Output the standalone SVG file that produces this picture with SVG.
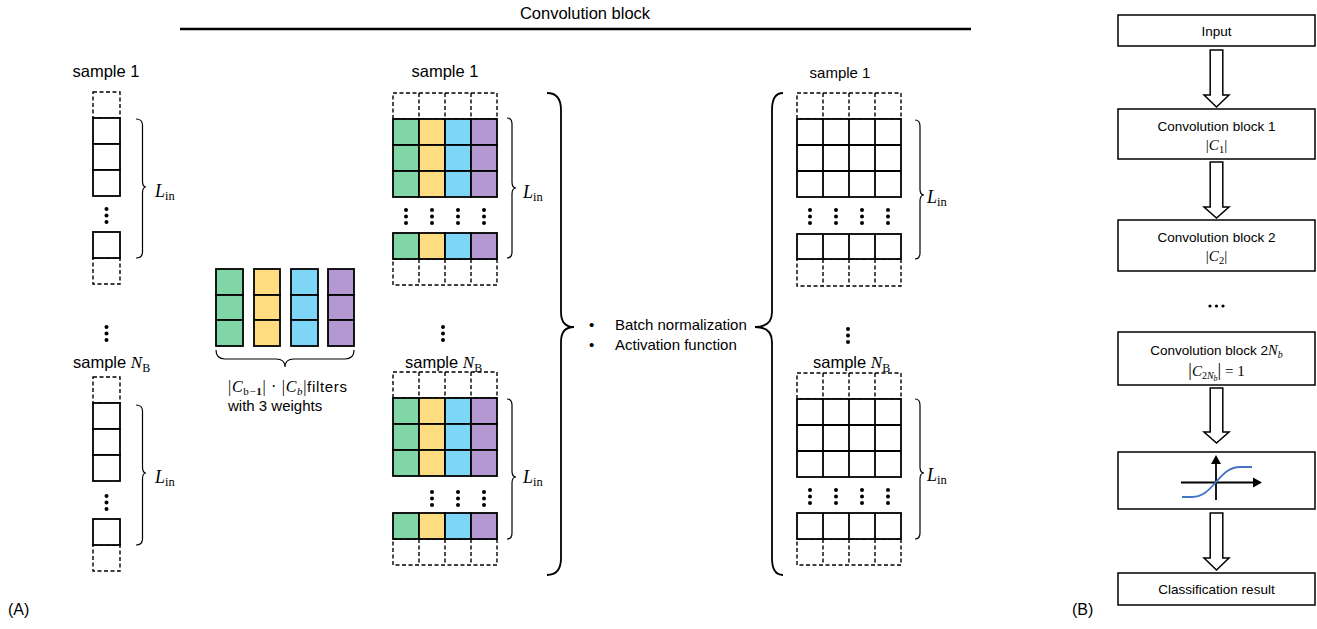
<svg xmlns="http://www.w3.org/2000/svg" xmlns:xlink="http://www.w3.org/1999/xlink" width="1317" height="629" viewBox="0 0 1317 629">
<style>
.t{font-family:"Liberation Sans",Arial,sans-serif;fill:#000}
.m{font-family:"Liberation Serif","DejaVu Serif",serif;fill:#000}
.i{font-style:italic}
.c{stroke:#000;stroke-width:1.8;fill:#fff}
.d{stroke:#000;stroke-width:1.4;stroke-dasharray:4 2.5;fill:none}
.g{fill:#80D6A6}
.y{fill:#FFDC80}
.b{fill:#7DD6F5}
.p{fill:#B398D2}
.br{fill:none;stroke:#000;stroke-width:1.2}
.bb{fill:none;stroke:#000;stroke-width:1.8}
.box{fill:#fff;stroke:#000;stroke-width:1.5}
.arr{fill:#fff;stroke:#000;stroke-width:1.5}
</style>
<defs>
<g id="vd"><circle cx="0" cy="0" r="2"/><circle cx="0" cy="6.5" r="2"/><circle cx="0" cy="13" r="2"/></g>
<g id="hd"><circle cx="0" cy="0" r="1.6"/><circle cx="6.5" cy="0" r="1.6"/><circle cx="13" cy="0" r="1.6"/></g>
</defs>
<rect width="1317" height="629" fill="#fff"/>

<!-- Title -->
<g id="title">
<text class="t" x="585" y="19" text-anchor="middle" font-size="16.5">Convolution block</text>
<line x1="180" y1="29" x2="971" y2="29" stroke="#000" stroke-width="2.6"/>
</g>

<!-- Input samples column -->
<g id="input-sample1">
<text class="t" x="106" y="77" text-anchor="middle" font-size="16.5">sample 1</text>
<rect class="d" x="93" y="92" width="27" height="26"/>
<rect class="d" x="93" y="258" width="27" height="26"/>
<rect class="c" x="93" y="118" width="27" height="26"/>
<rect class="c" x="93" y="144" width="27" height="26"/>
<rect class="c" x="93" y="170" width="27" height="26"/>
<use xlink:href="#vd" x="106.5" y="209"/>
<rect class="c" x="93" y="232" width="27" height="26"/>
<path class="br" d="M136,119 Q142.5,119 142.5,125 L142.5,181 Q142.5,187 146,187 Q142.5,187 142.5,193 L142.5,252 Q142.5,258 136,258"/>
<text class="m" x="155" y="197"><tspan class="i" font-size="18">L</tspan><tspan font-size="12.5" dy="3">in</tspan></text>
</g>
<use xlink:href="#vd" x="106.5" y="327"/>
<g id="input-sampleNB">
<text class="t" x="73" y="368" font-size="16.5">sample <tspan class="m i" font-size="17">N</tspan><tspan class="m" font-size="12" dy="4">B</tspan></text>
<rect class="d" x="93" y="377" width="27" height="26"/>
<rect class="d" x="93" y="545" width="27" height="26"/>
<rect class="c" x="93" y="403" width="27" height="26"/>
<rect class="c" x="93" y="429" width="27" height="26"/>
<rect class="c" x="93" y="455" width="27" height="26"/>
<use xlink:href="#vd" x="106.5" y="496"/>
<rect class="c" x="93" y="519" width="27" height="26"/>
<path class="br" d="M136,405 Q142.5,405 142.5,411 L142.5,467 Q142.5,473 146,473 Q142.5,473 142.5,479 L142.5,539 Q142.5,545 136,545"/>
<text class="m" x="155" y="483"><tspan class="i" font-size="18">L</tspan><tspan font-size="12.5" dy="3">in</tspan></text>
</g>

<!-- Filters -->
<g id="filters">
<rect class="c g" x="216" y="269" width="27" height="26"/><rect class="c g" x="216" y="295" width="27" height="25"/><rect class="c g" x="216" y="320" width="27" height="26"/>
<rect class="c y" x="254" y="269" width="26" height="26"/><rect class="c y" x="254" y="295" width="26" height="25"/><rect class="c y" x="254" y="320" width="26" height="26"/>
<rect class="c b" x="291" y="269" width="27" height="26"/><rect class="c b" x="291" y="295" width="27" height="25"/><rect class="c b" x="291" y="320" width="27" height="26"/>
<rect class="c p" x="328" y="269" width="26" height="26"/><rect class="c p" x="328" y="295" width="26" height="25"/><rect class="c p" x="328" y="320" width="26" height="26"/>
<path class="br" d="M216,350 Q216,359 225,359 L276,359 Q285,359 285,367 Q285,359 294,359 L345,359 Q354,359 354,350"/>
<text class="m" x="228" y="392" font-size="16" textLength="119" lengthAdjust="spacing">|<tspan class="i">C</tspan><tspan font-size="11" dy="3">b−<tspan font-weight="bold">1</tspan></tspan><tspan dy="-3">| · |</tspan><tspan class="i">C</tspan><tspan class="i" font-size="11" dy="3">b</tspan><tspan dy="-3">|</tspan><tspan class="t" font-size="15">filters</tspan></text>
<text class="t" x="228" y="411" font-size="15">with 3 weights</text>
</g>

<!-- Convolution output grids -->
<g id="conv-sample1">
<text class="t" x="445" y="77" text-anchor="middle" font-size="16.5">sample 1</text>
<rect class="d" x="393" y="93" width="104" height="26"/>
<path class="d" d="M419,93V119M445,93V119M471,93V119"/>
<rect class="d" x="393" y="259" width="104" height="26"/>
<path class="d" d="M419,259V285M445,259V285M471,259V285"/>
<rect class="c g" x="393" y="119" width="26" height="26"/><rect class="c y" x="419" y="119" width="26" height="26"/><rect class="c b" x="445" y="119" width="26" height="26"/><rect class="c p" x="471" y="119" width="26" height="26"/>
<rect class="c g" x="393" y="145" width="26" height="26"/><rect class="c y" x="419" y="145" width="26" height="26"/><rect class="c b" x="445" y="145" width="26" height="26"/><rect class="c p" x="471" y="145" width="26" height="26"/>
<rect class="c g" x="393" y="171" width="26" height="26"/><rect class="c y" x="419" y="171" width="26" height="26"/><rect class="c b" x="445" y="171" width="26" height="26"/><rect class="c p" x="471" y="171" width="26" height="26"/>
<use xlink:href="#vd" x="406" y="210"/><use xlink:href="#vd" x="432" y="210"/><use xlink:href="#vd" x="458" y="210"/><use xlink:href="#vd" x="484" y="210"/>
<rect class="c g" x="393" y="233" width="26" height="26"/><rect class="c y" x="419" y="233" width="26" height="26"/><rect class="c b" x="445" y="233" width="26" height="26"/><rect class="c p" x="471" y="233" width="26" height="26"/>
<path class="br" d="M507,118 Q512,118 512,124 L512,182 Q512,188 516,188 Q512,188 512,194 L512,252 Q512,258 507,258"/>
<text class="m" x="523" y="198"><tspan class="i" font-size="18">L</tspan><tspan font-size="12.5" dy="3">in</tspan></text>
</g>
<use xlink:href="#vd" x="443" y="327"/>
<g id="conv-sampleNB">
<text class="t" x="405" y="368" font-size="16.5">sample <tspan class="m i" font-size="17">N</tspan><tspan class="m" font-size="12" dy="4">B</tspan></text>
<rect class="d" x="393" y="372" width="104" height="26"/>
<path class="d" d="M419,372V398M445,372V398M471,372V398"/>
<rect class="d" x="393" y="539" width="104" height="26"/>
<path class="d" d="M419,539V565M445,539V565M471,539V565"/>
<rect class="c g" x="393" y="398" width="26" height="26"/><rect class="c y" x="419" y="398" width="26" height="26"/><rect class="c b" x="445" y="398" width="26" height="26"/><rect class="c p" x="471" y="398" width="26" height="26"/>
<rect class="c g" x="393" y="424" width="26" height="26"/><rect class="c y" x="419" y="424" width="26" height="26"/><rect class="c b" x="445" y="424" width="26" height="26"/><rect class="c p" x="471" y="424" width="26" height="26"/>
<rect class="c g" x="393" y="450" width="26" height="26"/><rect class="c y" x="419" y="450" width="26" height="26"/><rect class="c b" x="445" y="450" width="26" height="26"/><rect class="c p" x="471" y="450" width="26" height="26"/>
<use xlink:href="#vd" x="432" y="492"/><use xlink:href="#vd" x="458" y="492"/><use xlink:href="#vd" x="484" y="492"/>
<rect class="c g" x="393" y="513" width="26" height="26"/><rect class="c y" x="419" y="513" width="26" height="26"/><rect class="c b" x="445" y="513" width="26" height="26"/><rect class="c p" x="471" y="513" width="26" height="26"/>
<path class="br" d="M507,399 Q512,399 512,405 L512,471 Q512,477 516,477 Q512,477 512,483 L512,533 Q512,539 507,539"/>
<text class="m" x="523" y="483"><tspan class="i" font-size="18">L</tspan><tspan font-size="12.5" dy="3">in</tspan></text>
</g>

<!-- Big braces and operations -->
<g id="operations">
<path class="bb" d="M547,93 Q561,93 561,110 L561,312 Q561,327 574,327 Q561,327 561,342 L561,558 Q561,575 547,575"/>
<path class="bb" d="M783,93 Q772,93 772,110 L772,312 Q772,327 755,327 Q772,327 772,342 L772,558 Q772,575 783,575"/>
<text class="t" x="589" y="330" font-size="15">•</text>
<text class="t" x="615" y="330" font-size="15">Batch normalization</text>
<text class="t" x="589" y="350" font-size="15">•</text>
<text class="t" x="615" y="350" font-size="15">Activation function</text>
</g>

<!-- Output grids -->
<g id="out-sample1">
<text class="t" x="840" y="78" text-anchor="middle" font-size="15">sample 1</text>
<rect class="d" x="797" y="93" width="104" height="26"/>
<path class="d" d="M823,93V119M849,93V119M875,93V119"/>
<rect class="d" x="797" y="259" width="104" height="27"/>
<path class="d" d="M823,259V286M849,259V286M875,259V286"/>
<rect class="c" x="797" y="119" width="104" height="78"/>
<path class="c" d="M823,119V197M849,119V197M875,119V197M797,145H901M797,171H901"/>
<use xlink:href="#vd" x="810" y="210"/><use xlink:href="#vd" x="836" y="210"/><use xlink:href="#vd" x="862" y="210"/><use xlink:href="#vd" x="888" y="210"/>
<rect class="c" x="797" y="234" width="104" height="25"/>
<path class="c" d="M823,234V259M849,234V259M875,234V259"/>
<path class="br" d="M915,120 Q920,120 920,126 L920,189 Q920,195 924,195 Q920,195 920,201 L920,253 Q920,259 915,259"/>
<text class="m" x="927" y="203"><tspan class="i" font-size="18">L</tspan><tspan font-size="12.5" dy="3">in</tspan></text>
</g>
<use xlink:href="#vd" x="848" y="329"/>
<g id="out-sampleNB">
<text class="t" x="813" y="368" font-size="16.5">sample <tspan class="m i" font-size="17">N</tspan><tspan class="m" font-size="12" dy="4">B</tspan></text>
<rect class="d" x="797" y="373" width="104" height="26"/>
<path class="d" d="M823,373V399M849,373V399M875,373V399"/>
<rect class="d" x="797" y="539" width="104" height="26"/>
<path class="d" d="M823,539V565M849,539V565M875,539V565"/>
<rect class="c" x="797" y="399" width="104" height="78"/>
<path class="c" d="M823,399V477M849,399V477M875,399V477M797,425H901M797,451H901"/>
<use xlink:href="#vd" x="810" y="490"/><use xlink:href="#vd" x="836" y="490"/><use xlink:href="#vd" x="862" y="490"/><use xlink:href="#vd" x="888" y="490"/>
<rect class="c" x="797" y="513" width="104" height="26"/>
<path class="c" d="M823,513V539M849,513V539M875,513V539"/>
<path class="br" d="M915,399 Q920,399 920,405 L920,467 Q920,473 924,473 Q920,473 920,479 L920,533 Q920,539 915,539"/>
<text class="m" x="927" y="481"><tspan class="i" font-size="18">L</tspan><tspan font-size="12.5" dy="3">in</tspan></text>
</g>

<!-- Flowchart (B) -->
<g id="fc-input">
<rect class="box" x="1118" y="15" width="197" height="31"/>
<text class="t" x="1216.5" y="36" text-anchor="middle" font-size="13.5">Input</text>
</g>
<g id="fc-conv1">
<rect class="box" x="1118" y="109" width="197" height="50"/>
<text class="t" x="1216.5" y="131" text-anchor="middle" font-size="13.5">Convolution block 1</text>
<text class="m" x="1216.5" y="150" text-anchor="middle" font-size="15">|<tspan class="i">C</tspan><tspan font-size="10.5" dy="3">1</tspan><tspan dy="-3">|</tspan></text>
</g>
<g id="fc-conv2">
<rect class="box" x="1118" y="220" width="197" height="51"/>
<text class="t" x="1216.5" y="242" text-anchor="middle" font-size="13.5">Convolution block 2</text>
<text class="m" x="1216.5" y="261" text-anchor="middle" font-size="15">|<tspan class="i">C</tspan><tspan font-size="10.5" dy="3">2</tspan><tspan dy="-3">|</tspan></text>
</g>
<use xlink:href="#hd" x="1210" y="306"/>
<g id="fc-conv2nb">
<rect class="box" x="1118" y="332" width="197" height="53"/>
<text class="t" x="1216.5" y="355" text-anchor="middle" font-size="13.5">Convolution block 2<tspan class="m i" font-size="14.5">N</tspan><tspan class="m i" font-size="10" dy="3">b</tspan></text>
<text class="m" x="1216.5" y="376" text-anchor="middle" font-size="15"><tspan font-size="18">|</tspan><tspan class="i">C</tspan><tspan font-size="10" dy="3">2<tspan class="i">N</tspan></tspan><tspan class="i" font-size="8" dy="2">b</tspan><tspan font-size="18" dy="-5">|</tspan> = 1</text>
</g>
<g id="fc-activation">
<rect class="box" x="1118" y="452" width="197" height="57"/>
<line x1="1181" y1="482.5" x2="1254" y2="482.5" stroke="#000" stroke-width="1.8"/>
<polygon points="1253,477.5 1262,482.5 1253,487.5" fill="#000"/>
<line x1="1216" y1="500" x2="1216" y2="463" stroke="#000" stroke-width="1.8"/>
<polygon points="1211,464 1216,455 1221,464" fill="#000"/>
<path d="M1182,497 L1192,497 C1214,497 1218,467 1240,467 L1252,467" fill="none" stroke="#4472C4" stroke-width="1.8"/>
</g>
<g id="fc-result">
<rect class="box" x="1118" y="573" width="197" height="32"/>
<text class="t" x="1216.5" y="594" text-anchor="middle" font-size="13.5">Classification result</text>
</g>
<g id="connectors">
<polygon class="arr" points="1210.2,50 1222.8,50 1222.8,95 1229,95 1216.5,107 1204,95 1210.2,95"/>
<polygon class="arr" points="1210.2,162 1222.8,162 1222.8,207 1229,207 1216.5,218 1204,207 1210.2,207"/>
<polygon class="arr" points="1210.2,388 1222.8,388 1222.8,432 1229,432 1216.5,443 1204,432 1210.2,432"/>
<polygon class="arr" points="1210.2,513 1222.8,513 1222.8,558 1229,558 1216.5,570 1204,558 1210.2,558"/>
</g>

<text class="t" x="8" y="615" font-size="16">(A)</text>
<text class="t" x="1072" y="615" font-size="16">(B)</text>
</svg>
